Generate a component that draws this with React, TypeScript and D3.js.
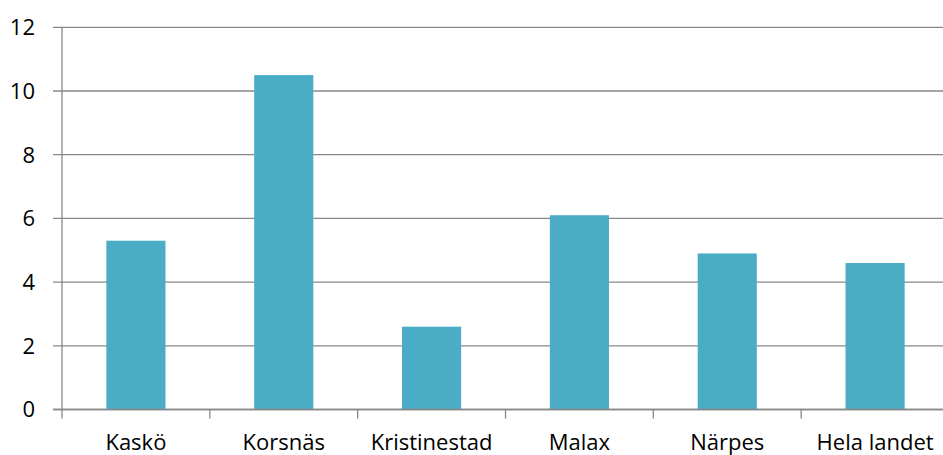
import React from "react";
import * as d3 from "d3";

const categories = ["Kaskö", "Korsnäs", "Kristinestad", "Malax", "Närpes", "Hela landet"];
const values = [5.3, 10.5, 2.6, 6.1, 4.9, 4.6];
const yTicks = [0, 2, 4, 6, 8, 10, 12];

const W = 943;
const H = 455;
const left = 62;
const right = 949;
const top = 27.3;
const bottom = 409.5;
const font = "'Open Sans', 'Liberation Sans', sans-serif";

export default function App() {
  const x = d3.scaleBand<string>().domain(categories).range([left, right]).paddingInner(0).paddingOuter(0);
  const y = d3.scaleLinear().domain([0, 12]).range([bottom, top]);
  const bw = x.bandwidth() * 0.4;
  const boundaries = d3.range(categories.length + 1).map((i) => left + i * x.step());
  return (
    <svg width={W} height={H} style={{ position: "absolute", left: 0, top: 0, display: "block" }}>
      <rect x={0} y={0} width={W} height={H} fill="#fff" />
      {yTicks.map((t) => (
        <g key={t}>
          <line x1={53} x2={W} y1={y(t)} y2={y(t)} stroke="#888888" strokeWidth={1.3} />
          <text x={35} y={y(t)} dy="0.36em" textAnchor="end" fontFamily={font} fontSize={22} fill="#000">
            {t}
          </text>
        </g>
      ))}
      <line x1={left} x2={left} y1={top} y2={bottom} stroke="#888888" strokeWidth={1.3} />
      {boundaries.map((bx, i) => (
        <line key={i} x1={bx} x2={bx} y1={bottom} y2={bottom + 9} stroke="#888888" strokeWidth={1.3} />
      ))}
      {categories.map((c, i) => (
        <rect
          key={c}
          x={(x(c) as number) + (x.bandwidth() - bw) / 2}
          y={y(values[i])}
          width={bw}
          height={bottom - y(values[i])}
          fill="#4BACC6"
        />
      ))}
      <line x1={53} x2={W} y1={bottom} y2={bottom} stroke="#888888" strokeWidth={1.3} />
      {categories.map((c) => (
        <text
          key={c}
          x={(x(c) as number) + x.bandwidth() / 2}
          y={450}
          textAnchor="middle"
          fontFamily={font}
          fontSize={22}
          fill="#000"
        >
          {c}
        </text>
      ))}
    </svg>
  );
}
